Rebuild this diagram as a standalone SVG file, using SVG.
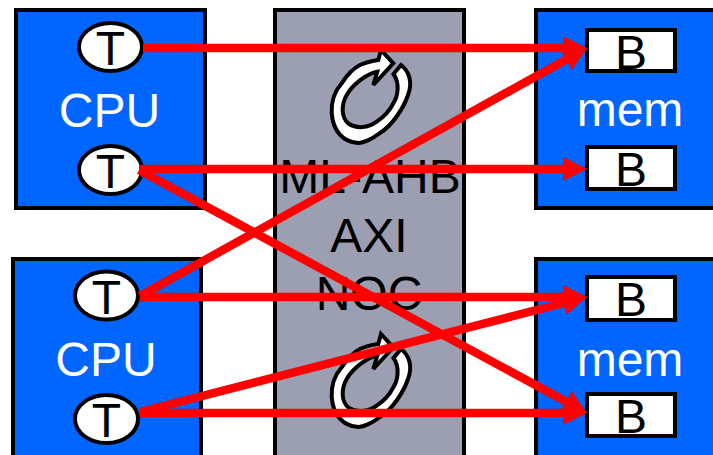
<svg xmlns="http://www.w3.org/2000/svg" width="713" height="455" viewBox="0 0 713 455">
<defs>
<marker id="ah" markerUnits="userSpaceOnUse" markerWidth="26" markerHeight="26" refX="14" refY="12" orient="auto"><path d="M0 0L24 12L0 24Z" fill="#ff0000"/></marker>
<path id="loop" d="M381 50L393.300 63.300L373.300 85L377.300 71.700C368 73 353 84 346.700 95C341 105 341 118 349 124C357 129 368 128 376.700 121.700C385 116 390 110 393.300 103.300C398 96 400 83 393.500 74L401 65C409 71 413 82 408 95C404 107 393 125 380 133C372 139 362 144 356.700 142.700C344 142 333 132 331.700 113C331 100 335 91 341.700 83.300C347 75 354 68 360 65C366 62 372 61 378.300 60Z"/>
</defs>
<style>
.box{fill:#0066ff;stroke:#000;stroke-width:4}
.bus{fill:#9c9fb2;stroke:#000;stroke-width:4}
.t{fill:#fff;stroke:#000;stroke-width:4}
.lw{font:48px "Liberation Sans",Arial,sans-serif;fill:#fff;text-anchor:middle}
.lb{font:48px "Liberation Sans",Arial,sans-serif;fill:#000;text-anchor:middle}
.c{fill:none;stroke:#ff0000;stroke-width:8.500;marker-end:url(#ah)}
.rot{fill:#fff;stroke:#000;stroke-width:4;stroke-linejoin:miter}
</style>
<g id="bus"><rect class="bus" x="275" y="10" width="189" height="460"/>
<use href="#loop" class="rot"/><use href="#loop" class="rot" y="284"/>
<text class="lb" x="370" y="193">ML-AHB</text><text class="lb" x="369" y="252">AXI</text><text class="lb" x="369" y="310">NOC</text></g>
<g id="cpu1"><rect class="box" x="16" y="10" width="189" height="198"/><text class="lw" x="109.500" y="127">CPU</text></g>
<g id="cpu2"><rect class="box" x="13" y="259" width="188" height="210"/><text class="lw" x="106" y="376">CPU</text></g>
<g id="mem1"><rect class="box" x="536" y="10" width="190" height="198"/><text class="lw" x="630" y="126">mem</text></g>
<g id="mem2"><rect class="box" x="536" y="259" width="190" height="210"/><text class="lw" x="630" y="376">mem</text></g>
<g id="t1"><ellipse class="t" cx="110.500" cy="47" rx="31.500" ry="24"/><text class="lb" x="110.500" y="65">T</text></g>
<g id="t2"><ellipse class="t" cx="110.500" cy="170" rx="31.500" ry="24"/><text class="lb" x="110.500" y="188">T</text></g>
<g id="t3"><ellipse class="t" cx="106.500" cy="295.500" rx="31.500" ry="24"/><text class="lb" x="106.500" y="314">T</text></g>
<g id="t4"><ellipse class="t" cx="106.500" cy="419" rx="31.500" ry="24"/><text class="lb" x="106.500" y="437">T</text></g>
<g id="b1"><rect class="t" x="587" y="30" width="88" height="41"/><text class="lb" x="631" y="69">B</text></g>
<g id="b2"><rect class="t" x="587" y="147" width="88" height="42"/><text class="lb" x="631" y="186">B</text></g>
<g id="b3"><rect class="t" x="587" y="277" width="88" height="43"/><text class="lb" x="631" y="316">B</text></g>
<g id="b4"><rect class="t" x="587" y="394" width="88" height="42"/><text class="lb" x="631" y="433">B</text></g>
<g id="connectors">
<path class="c" d="M143 48H577"/>
<path class="c" d="M139 169H577"/>
<path class="c" d="M139 170L578.200 408.200"/>
<path class="c" d="M140 296L578.300 52.800"/>
<path class="c" d="M140 297H577"/>
<path class="c" d="M140 412L577.300 299.500"/>
<path class="c" d="M140 413H577"/>
</g>
</svg>
